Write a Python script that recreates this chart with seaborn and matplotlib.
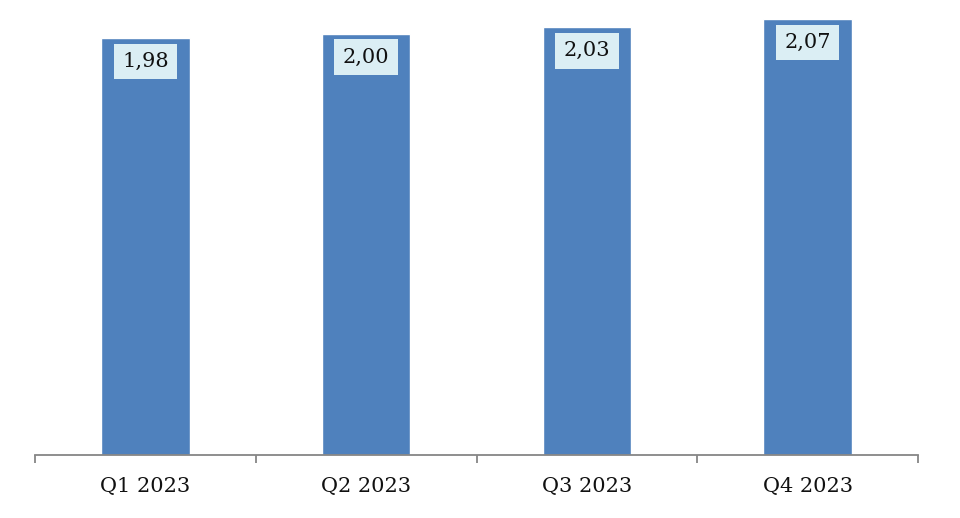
import matplotlib
matplotlib.use('Agg')
import matplotlib.pyplot as plt
import seaborn as sns
import pandas as pd

# data
quarters = ['Q1 2023', 'Q2 2023', 'Q3 2023', 'Q4 2023']
values = [1.98, 2.00, 2.03, 2.07]

df = pd.DataFrame({'quarter': quarters, 'value': values})

sns.set_style('white')
plt.rcParams['font.family'] = ['DejaVu Serif', 'Liberation Serif']

fig = plt.figure(figsize=(9.6, 5.18), dpi=100)
ax = fig.add_axes([35/960, 63/518, (918-35)/960, 455/518])

sns.barplot(data=df, x='quarter', y='value', color='#4f81bd', width=0.4,
            saturation=1, ax=ax)

ax.set_xlim(-0.5, len(quarters) - 0.5)
ax.set_ylim(0, 455/210.6)

# value labels (decimal comma)
for i, v in enumerate(values):
    ax.annotate(f'{v:.2f}'.replace('.', ','), xy=(i, v), xytext=(0, -10),
                textcoords='offset points', ha='center', va='top',
                fontsize=15, color='#111111',
                bbox=dict(boxstyle='square,pad=0.4', fc='#dbeef4', ec='none'))

for s in ['top', 'right', 'left']:
    ax.spines[s].set_visible(False)
ax.spines['bottom'].set_color('#868686')
ax.spines['bottom'].set_linewidth(1.3)

ax.set_yticks([])
ax.set_xlabel('')
ax.set_ylabel('')
ax.set_xticks([x - 0.5 for x in range(len(quarters) + 1)], minor=True)
ax.tick_params(axis='x', which='minor', bottom=True, length=6, width=1.3,
               color='#868686', direction='out')
ax.tick_params(axis='x', which='major', bottom=False, length=0, labelsize=15,
               pad=16, labelcolor='#111111')

fig.savefig('out.png', dpi=100)
